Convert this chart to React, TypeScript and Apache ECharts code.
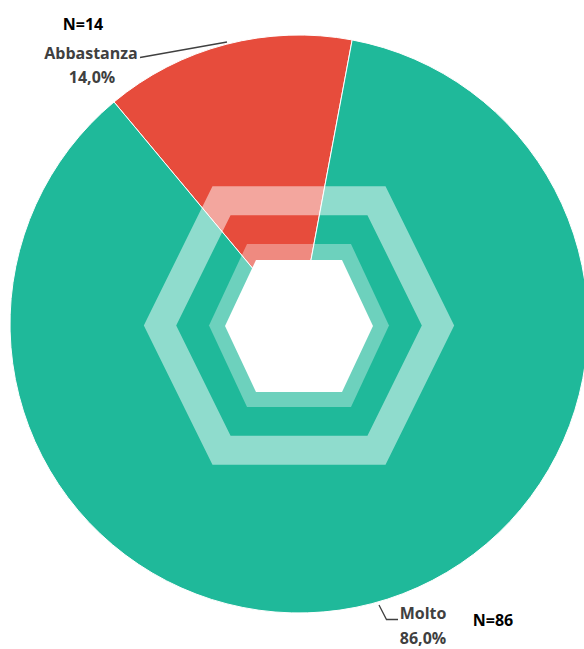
import React, { useEffect, useRef } from "react";
import * as echarts from "echarts";

const categories = ["Abbastanza", "Molto"];
const counts = [14, 86];

const COLORS = ["#e74c3c", "#1fb99a"];

function hexPoints(cx: number, cy: number, halfW: number, halfTopW: number, halfH: number): number[][] {
  return [
    [cx - halfW, cy],
    [cx - halfTopW, cy - halfH],
    [cx + halfTopW, cy - halfH],
    [cx + halfW, cy],
    [cx + halfTopW, cy + halfH],
    [cx - halfTopW, cy + halfH],
  ];
}

export default function App() {
  const ref = useRef<HTMLDivElement>(null);
  useEffect(() => {
    if (!ref.current) return;
    const chart = echarts.init(ref.current, null, { renderer: "svg" });
    const total = counts.reduce((a, b) => a + b, 0);
    const pct = counts.map((v) => ((v / total) * 100).toFixed(1).replace(".", ",") + "%");
    const font = "'Open Sans', sans-serif";
    const hx = 299;
    const hy = 325.5;

    chart.setOption({
      animation: false,
      backgroundColor: "#ffffff",
      series: [
        {
          type: "pie",
          center: [299, 324],
          radius: [0, 289],
          startAngle: 129.8,
          clockwise: true,
          silent: true,
          label: { show: false },
          labelLine: { show: false },
          emphasis: { disabled: true },
          itemStyle: { borderColor: "#ffffff", borderWidth: 1 },
          data: categories.map((c, i) => ({
            name: c,
            value: counts[i],
            itemStyle: { color: COLORS[i] },
          })),
        },
      ],
      graphic: [
        {
          type: "polygon",
          silent: true,
          shape: { points: hexPoints(hx, hy, 139, 77.5, 124.75) },
          style: {
            fill: "none",
            stroke: "rgba(255,255,255,0.5)",
            lineWidth: 29,
            lineJoin: "miter",
          },
          z: 10,
        },
        {
          type: "polygon",
          silent: true,
          shape: { points: hexPoints(hx, hy, 90, 52, 81.5) },
          style: { fill: "rgba(255,255,255,0.35)" },
          z: 10,
        },
        {
          type: "polygon",
          silent: true,
          shape: { points: hexPoints(hx, 326, 74, 43, 66) },
          style: { fill: "#ffffff" },
          z: 11,
        },
        // Abbastanza labels
        {
          type: "text",
          x: 83,
          y: 24,
          style: {
            text: "N=" + counts[0],
            fill: "#000000",
            font: "bold 16px " + font,
            align: "center",
            verticalAlign: "middle",
          },
          z: 20,
        },
        {
          type: "text",
          x: 91,
          y: 53,
          style: {
            text: categories[0],
            fill: "#404040",
            font: "bold 16px " + font,
            align: "center",
            verticalAlign: "middle",
          },
          z: 20,
        },
        {
          type: "text",
          x: 92,
          y: 77,
          style: {
            text: pct[0],
            fill: "#404040",
            font: "bold 16px " + font,
            align: "center",
            verticalAlign: "middle",
          },
          z: 20,
        },
        {
          type: "polyline",
          silent: true,
          shape: { points: [[140, 57.5], [227, 42]] },
          style: { stroke: "#404040", lineWidth: 1.3, fill: "none" },
          z: 20,
        },
        // Molto labels
        {
          type: "text",
          x: 423,
          y: 613,
          style: {
            text: categories[1],
            fill: "#404040",
            font: "bold 16px " + font,
            align: "center",
            verticalAlign: "middle",
          },
          z: 20,
        },
        {
          type: "text",
          x: 423,
          y: 638,
          style: {
            text: pct[1],
            fill: "#404040",
            font: "bold 16px " + font,
            align: "center",
            verticalAlign: "middle",
          },
          z: 20,
        },
        {
          type: "text",
          x: 493,
          y: 620,
          style: {
            text: "N=" + counts[1],
            fill: "#000000",
            font: "bold 16px " + font,
            align: "center",
            verticalAlign: "middle",
          },
          z: 20,
        },
        {
          type: "polyline",
          silent: true,
          shape: { points: [[379, 605], [386.5, 619.5], [398, 619.5]] },
          style: { stroke: "#404040", lineWidth: 1.3, fill: "none" },
          z: 20,
        },
      ],
    });
    return () => chart.dispose();
  }, []);
  return (
    <div
      ref={ref}
      style={{ position: "absolute", left: 0, top: 0, width: 584, height: 649 }}
    />
  );
}
